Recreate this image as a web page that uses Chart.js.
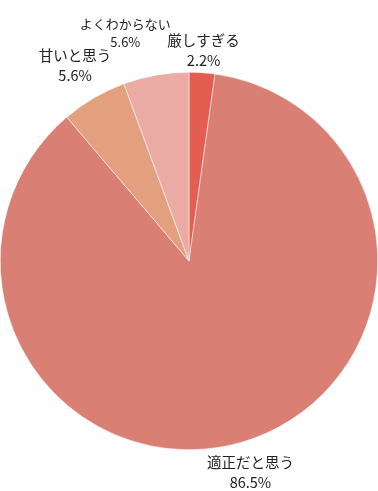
<!DOCTYPE html>
<html>
<head>
<meta charset="utf-8">
<script src="https://cdn.jsdelivr.net/npm/chart.js@4"></script>
<style>
  html, body { margin: 0; padding: 0; background: #fff; }
  #wrap { width: 378px; height: 491px; }
</style>
</head>
<body>
<div id="wrap"><canvas id="pieChart"></canvas></div>
<script>
const labels = ['厳しすぎる', '適正だと思う', '甘いと思う', 'よくわからない'];
const values = [2.2, 86.5, 5.6, 5.6];
const colors = ['#e35d50', '#d97f73', '#e2a07f', '#eaaba4'];

// label placement: distance from centre, angle nudge (deg), font size
const labelDist = [211, 220, 226, 237];
const labelNudge = [0, 0, 0, -5.5];
const labelSize = [14.5, 14.5, 14.5, 13];

const sliceLabels = {
  id: 'sliceLabels',
  afterDraw(chart) {
    const ctx = chart.ctx;
    const arcs = chart.getDatasetMeta(0).data;
    ctx.save();
    ctx.fillStyle = '#222';
    ctx.textAlign = 'center';
    ctx.textBaseline = 'middle';
    arcs.forEach((arc, i) => {
      const a = (arc.startAngle + arc.endAngle) / 2 + labelNudge[i] * Math.PI / 180;
      const x = arc.x + Math.cos(a) * labelDist[i];
      const y = arc.y + Math.sin(a) * labelDist[i];
      const s = labelSize[i];
      ctx.font = s + 'px "Noto Sans CJK JP", "Noto Sans", sans-serif';
      ctx.fillText(labels[i], x, y - s * 0.7);
      ctx.fillText(values[i].toFixed(1) + '%', x, y + s * 0.7);
    });
    ctx.restore();
  }
};

const ctx = document.getElementById('pieChart').getContext('2d');
new Chart(ctx, {
  type: 'pie',
  data: {
    labels: labels,
    datasets: [{
      data: values,
      backgroundColor: colors,
      borderColor: '#ffffff',
      borderWidth: 0.5
    }]
  },
  options: {
    responsive: true,
    maintainAspectRatio: false,
    animation: false,
    layout: { padding: { top: 72, bottom: 41 } },
    plugins: {
      legend: { display: false },
      tooltip: { enabled: false }
    }
  },
  plugins: [sliceLabels]
});
</script>
</body>
</html>
